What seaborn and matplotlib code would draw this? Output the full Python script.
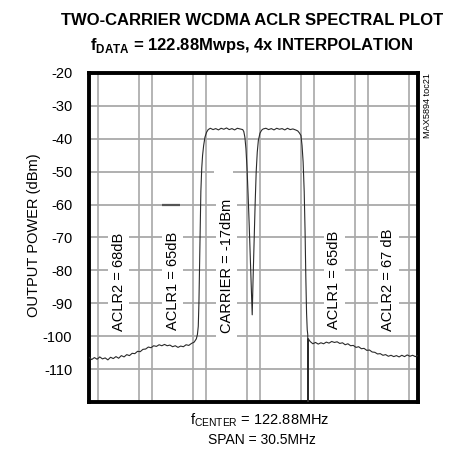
import pandas as pd
import matplotlib
matplotlib.use("Agg")
import matplotlib.pyplot as plt
import seaborn as sns

# === Spectrum trace (MHz offset from 122.88MHz, dBm) ===
freq_offset = [
    -15.25, -15.0, -14.75, -14.5, -14.25, -14.0, -13.75, -13.5, -13.25, -13.0,
    -12.75, -12.5, -12.25, -12.0, -11.75, -11.5, -11.25, -11.0, -10.75, -10.5,
    -10.25, -10.0, -9.75, -9.5, -9.25, -9.0, -8.75, -8.5, -8.25, -8.0,
    -7.75, -7.5, -7.25, -7.0, -6.75, -6.5, -6.25, -6.0, -5.75, -5.5,
    -5.3, -5.2, -5.12, -5.06, -5.0, -4.95, -4.88, -4.8, -4.72, -4.62,
    -4.5, -4.35, -4.2, -4.0, -3.75, -3.5, -3.25, -3.0, -2.75, -2.5,
    -2.25, -2.0, -1.75, -1.5, -1.25, -1.0, -0.9, -0.8, -0.7, -0.6,
    -0.5, -0.4, -0.3, -0.2, -0.12, -0.05, 0.05, 0.15, 0.25, 0.35,
    0.45, 0.6, 0.75, 0.9, 1.15, 1.4, 1.65, 1.9, 2.15, 2.4,
    2.65, 2.9, 3.15, 3.4, 3.65, 3.9, 4.1, 4.25, 4.4, 4.5,
    4.6, 4.7, 4.78, 4.85, 4.92, 4.98, 5.03, 5.05, 5.08, 5.25,
    5.5, 5.75, 6.0, 6.25, 6.5, 6.75, 7.0, 7.25, 7.5, 7.75,
    8.0, 8.25, 8.5, 8.75, 9.0, 9.25, 9.5, 9.75, 10.0, 10.25,
    10.5, 10.75, 11.0, 11.25, 11.5, 11.75, 12.0, 12.25, 12.5, 12.75,
    13.0, 13.25, 13.5, 13.75, 14.0, 14.25, 14.5, 14.75, 15.0, 15.25,
]
power_dbm = [
    -106.4, -107.1, -106.5, -107.0, -106.3, -106.9, -106.6, -107.2, -106.4, -106.8,
    -106.2, -106.7, -105.9, -106.3, -105.6, -105.9, -105.2, -105.3, -104.6, -104.7,
    -104.0, -103.9, -103.3, -103.5, -102.9, -103.1, -102.6, -102.9, -102.5, -102.9,
    -102.7, -103.2, -102.9, -103.4, -103.0, -103.2, -102.6, -102.8, -102.2, -101.8,
    -100.8, -99.5, -97.0, -90.0, -78.0, -66.0, -56.0, -49.0, -45.0, -42.0,
    -39.5, -38.0, -37.2, -36.8, -37.2, -36.9, -37.3, -36.8, -37.1, -36.7,
    -37.2, -36.9, -37.3, -36.8, -37.0, -37.2, -37.8, -39.5, -43.0, -49.0,
    -57.0, -66.0, -76.0, -87.0, -93.5, -84.0, -72.0, -60.0, -50.0, -44.0,
    -40.5, -38.3, -37.4, -37.0, -36.8, -37.2, -36.9, -37.3, -36.8, -37.1,
    -36.9, -37.3, -36.8, -37.2, -37.0, -37.3, -37.6, -38.2, -39.0, -42.0,
    -47.0, -56.0, -68.0, -82.0, -93.0, -98.0, -99.5, -125.0, -100.8, -101.6,
    -102.3, -101.9, -102.4, -102.0, -102.3, -101.8, -102.1, -101.6, -101.9, -101.7,
    -102.2, -102.0, -102.6, -102.3, -102.9, -102.8, -103.4, -103.2, -103.8, -103.7,
    -104.3, -104.2, -104.8, -104.9, -105.4, -105.3, -105.8, -105.6, -106.1, -105.8,
    -106.2, -105.9, -106.3, -105.8, -106.2, -105.7, -106.1, -105.8, -106.2, -105.9,
]

# === Channel layout (MHz offset) ===
channel_centers = [-12.5, -7.5, -2.5, 2.5, 7.5, 12.5]
channel_bw = 3.84
label_centers = [-12.5, -7.5, -2.5, 7.5, 12.5]
label_levels = [-83.5, -83.2, -78.7, -83.0, -83.0]
label_texts = ["ACLR2 = 68dB", "ACLR1 = 65dB", "CARRIER = -17dBm",
               "ACLR1 = 65dB", "ACLR2 = 67 dB"]

y_ticks = [-20, -30, -40, -50, -60, -70, -80, -90, -100, -110]
grid_levels = [-30, -40, -50, -60, -70, -80, -90, -100, -110]
span = 30.5

df = pd.DataFrame({"offset": freq_offset, "power": power_dbm})

sns.set_style("white")
plt.rcParams["font.family"] = ["Liberation Sans", "DejaVu Sans"]
plt.rcParams["text.color"] = "black"
plt.rcParams["ytick.color"] = "black"
plt.rcParams["axes.unicode_minus"] = False

fig = plt.figure(figsize=(4.59, 4.5), dpi=100)
ax = fig.add_axes([89 / 459, 1 - 402 / 450, 329 / 459, 329 / 450])

grid_kw = dict(color="#9a9a9a", lw=1.1, zorder=1)
for level in grid_levels:
    if level == -50:
        ax.hlines(level, -span / 2, -3.66, **grid_kw)
        ax.hlines(level, -1.9, span / 2, **grid_kw)
    else:
        ax.hlines(level, -span / 2, span / 2, **grid_kw)
ax.hlines(-60, -8.48, -6.81, color="#555555", lw=1.6, zorder=2)

for c in channel_centers:
    for edge in (c - channel_bw / 2, c + channel_bw / 2):
        ax.axvline(edge, color="#a8a8a8", lw=1.2, zorder=1)

for x, y, s in zip(label_centers, label_levels, label_texts):
    ax.text(x, y, s, rotation=90, ha="center", va="center", fontsize=10.5,
            bbox=dict(facecolor="white", edgecolor="none", pad=2.5), zorder=3)

sns.lineplot(data=df, x="offset", y="power", ax=ax, color="#2a2a2a",
             lw=0.8, estimator=None, sort=False, zorder=4)

ax.set_xlim(-span / 2, span / 2)
ax.set_ylim(-120, -20)
ax.set_xticks([])
ax.set_yticks(y_ticks)
ax.tick_params(axis="y", length=0, pad=12, labelsize=10.5)
ax.set_xlabel("")
ax.set_ylabel("")
for sp in ax.spines.values():
    sp.set_visible(True)
    sp.set_color("black")
    sp.set_linewidth(2.8)

fig.text(252 / 459, 1 - 25 / 450, "TWO-CARRIER WCDMA ACLR SPECTRAL PLOT",
         ha="center", va="baseline", fontsize=12, fontweight="bold")
fig.text(252 / 459, 1 - 50 / 450,
         r"f$_{\mathregular{DATA}}$ = 122.88Mwps, 4x INTERPOLATION",
         ha="center", va="baseline", fontsize=12, fontweight="bold")
fig.text(34 / 459, 1 - 235 / 450, "OUTPUT POWER (dBm)", rotation=90,
         ha="center", va="center", fontsize=10.5)
fig.text(427 / 459, 1 - 73 / 450, "MAX5894 toc21", rotation=90,
         ha="center", va="top", fontsize=6.6)
fig.text(260 / 459, 1 - 424 / 450,
         r"f$_{\mathregular{CENTER}}$ = 122.88MHz",
         ha="center", va="baseline", fontsize=10.5)
fig.text(262 / 459, 1 - 444 / 450, "SPAN = 30.5MHz",
         ha="center", va="baseline", fontsize=10)

fig.savefig("out.png", dpi=100)
